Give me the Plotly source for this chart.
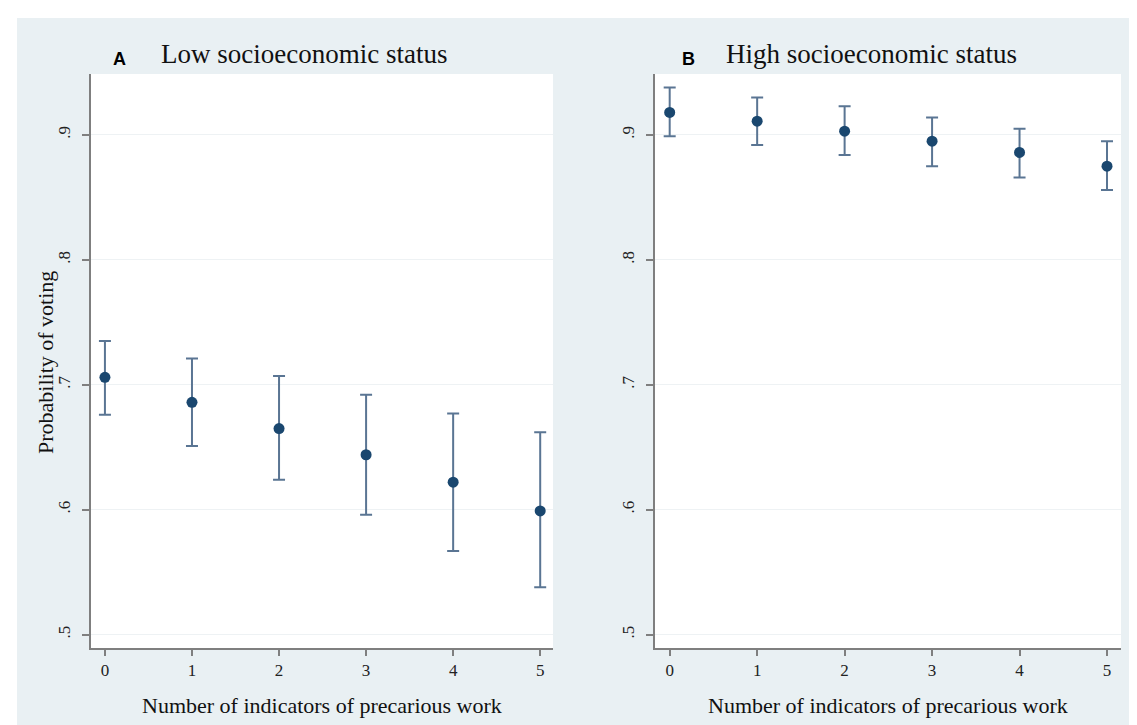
import plotly.graph_objects as go

x_vals = [0, 1, 2, 3, 4, 5]
x_labels = ["0", "1", "2", "3", "4", "5"]

low_est = [0.706, 0.686, 0.665, 0.644, 0.622, 0.599]
low_lo = [0.676, 0.651, 0.624, 0.596, 0.567, 0.538]
low_hi = [0.735, 0.721, 0.707, 0.692, 0.677, 0.662]

high_est = [0.918, 0.911, 0.903, 0.895, 0.886, 0.875]
high_lo = [0.899, 0.892, 0.884, 0.875, 0.866, 0.856]
high_hi = [0.938, 0.930, 0.923, 0.914, 0.905, 0.895]

y_ticks = [0.5, 0.6, 0.7, 0.8, 0.9]
y_labels = [".5", ".6", ".7", ".8", ".9"]

panel_titles = ["Low socioeconomic status", "High socioeconomic status"]
panel_letters = ["A", "B"]
x_title = "Number of indicators of precarious work"
y_title = "Probability of voting"

W, H = 1137, 725
BG = "#e9f0f3"
MARK = "#1a476f"
ERR = "#5a7593"
AXC = "#7f7f7f"
SERIF = "Liberation Serif"

def px(v):
    return v / W

def py(v):
    return 1 - v / H

fig = go.Figure()

for i, (est, lo, hi) in enumerate([(low_est, low_lo, low_hi), (high_est, high_lo, high_hi)]):
    fig.add_trace(go.Scatter(
        x=x_vals, y=est, mode="markers",
        xaxis="x" if i == 0 else "x2", yaxis="y" if i == 0 else "y2",
        marker=dict(color=MARK, size=11),
        error_y=dict(type="data", symmetric=False,
                     array=[h - e for h, e in zip(hi, est)],
                     arrayminus=[e - l for e, l in zip(est, lo)],
                     color=ERR, thickness=2, width=6),
        showlegend=False,
    ))

ydom = [py(640), py(66)]
yrange = [0.4893, 0.9488]

common_x = dict(
    tickmode="array", tickvals=x_vals, ticktext=x_labels,
    showgrid=False, zeroline=False,
    showline=True, linecolor=AXC, linewidth=2,
    ticks="outside", ticklen=6, tickcolor=AXC, tickwidth=1.5,
    tickfont=dict(family=SERIF, size=17, color="#222"),
    fixedrange=True,
)
common_y = dict(
    range=yrange, tickmode="array", tickvals=y_ticks, ticktext=y_labels,
    tickangle=-90, ticklabelstandoff=5,
    showgrid=True, gridcolor="#eef2f4", gridwidth=1, zeroline=False,
    showline=True, linecolor=AXC, linewidth=2,
    ticks="outside", ticklen=7, tickcolor=AXC, tickwidth=1.5,
    tickfont=dict(family=SERIF, size=17, color="#222"),
    fixedrange=True,
)

fig.update_layout(
    width=W, height=H,
    margin=dict(l=0, r=0, t=0, b=0),
    paper_bgcolor=BG, plot_bgcolor="white",
    xaxis=dict(domain=[px(83), px(545)], range=[-0.16, 5.147], anchor="y", **common_x),
    yaxis=dict(domain=ydom, anchor="x", **common_y),
    xaxis2=dict(domain=[px(647), px(1113)], range=[-0.168, 5.16], anchor="y2", **common_x),
    yaxis2=dict(domain=ydom, anchor="x2", **common_y),
    shapes=[
        dict(type="rect", xref="paper", yref="paper", x0=0, x1=1, y0=py(10), y1=1,
             fillcolor="white", line=dict(width=0), layer="below"),
        dict(type="rect", xref="paper", yref="paper", x0=0, x1=px(9), y0=0, y1=1,
             fillcolor="white", line=dict(width=0), layer="below"),
        dict(type="rect", xref="paper", yref="paper", x0=0, x1=1, y0=0, y1=py(724),
             fillcolor="white", line=dict(width=0), layer="below"),
    ],
    annotations=[
        dict(text=panel_letters[0], x=px(111.5), y=py(51), xref="paper", yref="paper",
             showarrow=False, xanchor="center", yanchor="middle",
             font=dict(family="Liberation Sans", size=18, color="black", weight="bold")),
        dict(text=panel_letters[1], x=px(680), y=py(51), xref="paper", yref="paper",
             showarrow=False, xanchor="center", yanchor="middle",
             font=dict(family="Liberation Sans", size=18, color="black", weight="bold")),
        dict(text=panel_titles[0], x=px(151), y=py(46), xref="paper", yref="paper",
             showarrow=False, xanchor="left", yanchor="middle",
             font=dict(family=SERIF, size=27, color="#111")),
        dict(text=panel_titles[1], x=px(716), y=py(46), xref="paper", yref="paper",
             showarrow=False, xanchor="left", yanchor="middle",
             font=dict(family=SERIF, size=27, color="#111")),
        dict(text=x_title, x=px(314), y=py(697), xref="paper", yref="paper",
             showarrow=False, xanchor="center", yanchor="middle",
             font=dict(family=SERIF, size=22, color="#111")),
        dict(text=x_title, x=px(880), y=py(697), xref="paper", yref="paper",
             showarrow=False, xanchor="center", yanchor="middle",
             font=dict(family=SERIF, size=22, color="#111")),
        dict(text=y_title, x=px(37), y=py(355), xref="paper", yref="paper",
             showarrow=False, xanchor="center", yanchor="middle", textangle=-90,
             font=dict(family=SERIF, size=22, color="#111")),
    ],
)

fig.write_html("out.html")
